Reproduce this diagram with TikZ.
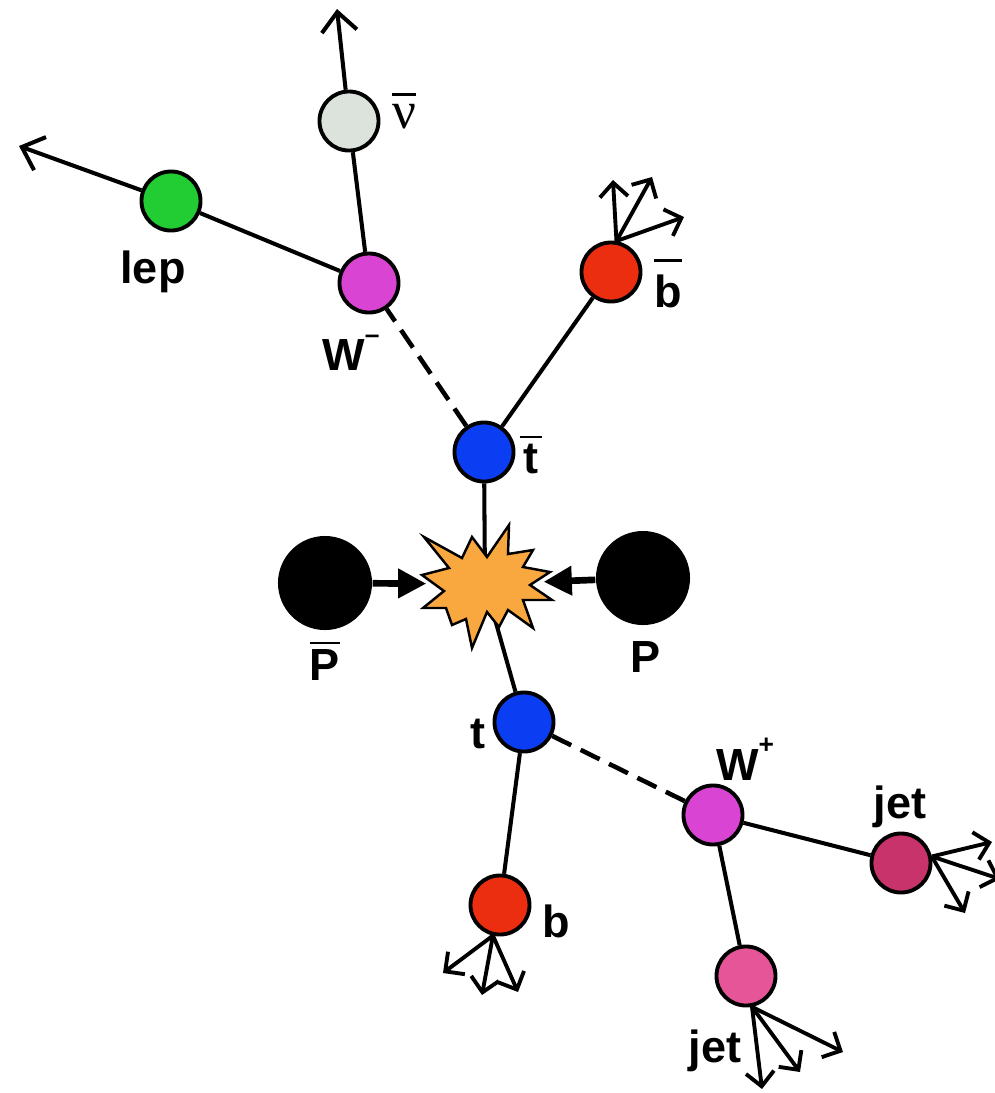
\documentclass[tikz,border=0pt]{standalone}
\usepackage{fontspec}
\setmainfont{Liberation Sans}
\newfontfamily\nufont{Liberation Serif}
\usepackage{tikz}
\usetikzlibrary{shapes,positioning,arrows.meta}
\definecolor{nugrey}{HTML}{DCE3DC}
\definecolor{lepgreen}{HTML}{22CC33}
\definecolor{wmagenta}{HTML}{D944D2}
\definecolor{bred}{HTML}{EC2E10}
\definecolor{topblue}{HTML}{0B3DF2}
\definecolor{jetdark}{HTML}{C8336B}
\definecolor{jetpink}{HTML}{E65598}
\definecolor{burstorange}{HTML}{F9A83F}
\newcommand{\obar}[2]{\vbox{\hrule height 0.8pt\kern#1\hbox{#2}}}
\newcommand{\charge}[1]{\raisebox{0.58em}{\fontsize{7.5}{7.5}\selectfont #1}}
\tikzset{particle/.style={circle,draw,minimum size=0.59cm,inner sep=0pt,line width=1.1pt}}
\tikzset{beam/.style={circle,fill=black,minimum size=0.94cm,inner sep=0pt}}
\tikzset{lbl/.style={draw=none,color=black,inner sep=0pt,anchor=base,font=\bfseries\fontsize{12.8}{14}\selectfont}}
\tikzset{decay/.style={line width=1.15pt}}
\tikzset{spray/.style={line width=1.1pt,-{Straight Barb[length=4pt,width=8pt]}}}
\tikzset{wline/.style={line width=1.3pt,dash pattern=on 6pt off 3pt}}
\tikzset{beamarrow/.style={-{Triangle[length=8pt,width=8pt]},line width=1.9pt}}

\begin{document}
\begin{tikzpicture}[x=0.01cm,y=-0.01cm,>={Straight Barb[length=5.5pt,width=10pt]}]
        \useasboundingbox (0,0) rectangle (995,1093);

        \node[particle,fill=nugrey] (nub) at (349,121) {};
        \node[particle,fill=lepgreen] (lep) at (171,201) {};
        \node[particle,fill=wmagenta] (Wm) at (369,283) {};
        \node[particle,fill=bred] (bb) at (611,272) {};
        \node[particle,fill=topblue] (tb) at (484,452) {};
        \node[beam] (Pb) at (325,583) {};
        \node[beam] (P) at (643,578) {};
        \node[circle,minimum size=1.16cm,inner sep=0pt] (hit) at (485,584) {};
        \node[particle,fill=topblue] (t) at (524,722) {};
        \node[particle,fill=wmagenta] (Wp) at (713,815) {};
        \node[particle,fill=bred] (b) at (500,905) {};
        \node[particle,fill=jetdark] (jr) at (901,863) {};
        \node[particle,fill=jetpink] (jl) at (746,976) {};

        \node[lbl] (lep-lbl) at (153,283) {lep};
        \node[lbl] (nub-lbl) at (404,128) {\obar{2.3pt}{\nufont\mdseries\fontsize{15}{16}\selectfont ν}};
        \node[lbl] (Wm-lbl) at (351,370) {W\charge{–}};
        \node[lbl] (bb-lbl) at (668,307) {\obar{3.5pt}{b}};
        \node[lbl] (tb-lbl) at (531,473) {\obar{1.5pt}{\makebox[0.5em]{t}}};
        \node[lbl] (Pb-lbl) at (325,680) {\obar{1.3pt}{P}};
        \node[lbl] (P-lbl) at (646,672) {P};
        \node[lbl] (t-lbl) at (478,748) {t};
        \node[lbl] (b-lbl) at (556,937) {b};
        \node[lbl] (Wp-lbl) at (745,780) {W\charge{+}};
        \node[lbl] (jr-lbl) at (900,818) {jet};
        \node[lbl] (jl-lbl) at (715,1062) {jet};

        \coordinate (nuout) at (337,9);
        \coordinate (lepout) at (19,146);
        \coordinate (bb1) at (613,180);
        \coordinate (bb2) at (652,177);
        \coordinate (bb3) at (684,217);
        \coordinate (b1) at (443,973);
        \coordinate (b2) at (482,995);
        \coordinate (b3) at (518,992);
        \coordinate (jr1) at (992,842);
        \coordinate (jr2) at (1000,879);
        \coordinate (jr3) at (965,913);
        \coordinate (jl1) at (762,1089);
        \coordinate (jl2) at (800,1072);
        \coordinate (jl3) at (843,1052);

        % top decay
        \draw[decay] (Wm) -- (lep);
        \draw[decay] (Wm) -- (nub);
        \draw[decay,->] (lep) -- (lepout);
        \draw[decay,->] (nub) -- (nuout);
        \draw[wline] (tb) -- (Wm);
        \draw[decay] (tb) -- (bb);
        \draw[spray] (bb.80) -- (bb1);
        \draw[spray] (bb.80) -- (bb2);
        \draw[spray] (bb.80) -- (bb3);

        % bottom decay
        \draw[wline] (t) -- (Wp);
        \draw[decay] (t) -- (b);
        \draw[decay] (Wp) -- (jr);
        \draw[decay] (Wp) -- (jl);
        \draw[spray] (b.-103) -- (b1);
        \draw[spray] (b.-103) -- (b2);
        \draw[spray] (b.-103) -- (b3);
        \draw[spray] (jr.12) -- (jr1);
        \draw[spray] (jr.12) -- (jr2);
        \draw[spray] (jr.12) -- (jr3);
        \draw[spray] (jl.-79) -- (jl1);
        \draw[spray] (jl.-79) -- (jl2);
        \draw[spray] (jl.-79) -- (jl3);

        % collision
        \draw[decay] (tb) -- (hit.center);
        \draw[decay] (t) -- (hit.center);
        \filldraw[fill=burstorange,draw=black,line width=0.7pt,line join=miter]
            (424,537) -- (462,558) -- (472,537) -- (487,557) -- (509,525) -- (508,554)
            -- (533,550) -- (523,567) -- (550,572) -- (530,585) -- (552,600) -- (523,600)
            -- (533,628) -- (508,610) -- (499,627) -- (487,612) -- (472,648) -- (466,619)
            -- (452,625) -- (446,608) -- (423,608) -- (444,591) -- (422,575) -- (449,568) -- cycle;
        \draw[beamarrow] (Pb) -- (hit);
        \draw[beamarrow] (P) -- (hit);
    \end{tikzpicture}
\end{document}
